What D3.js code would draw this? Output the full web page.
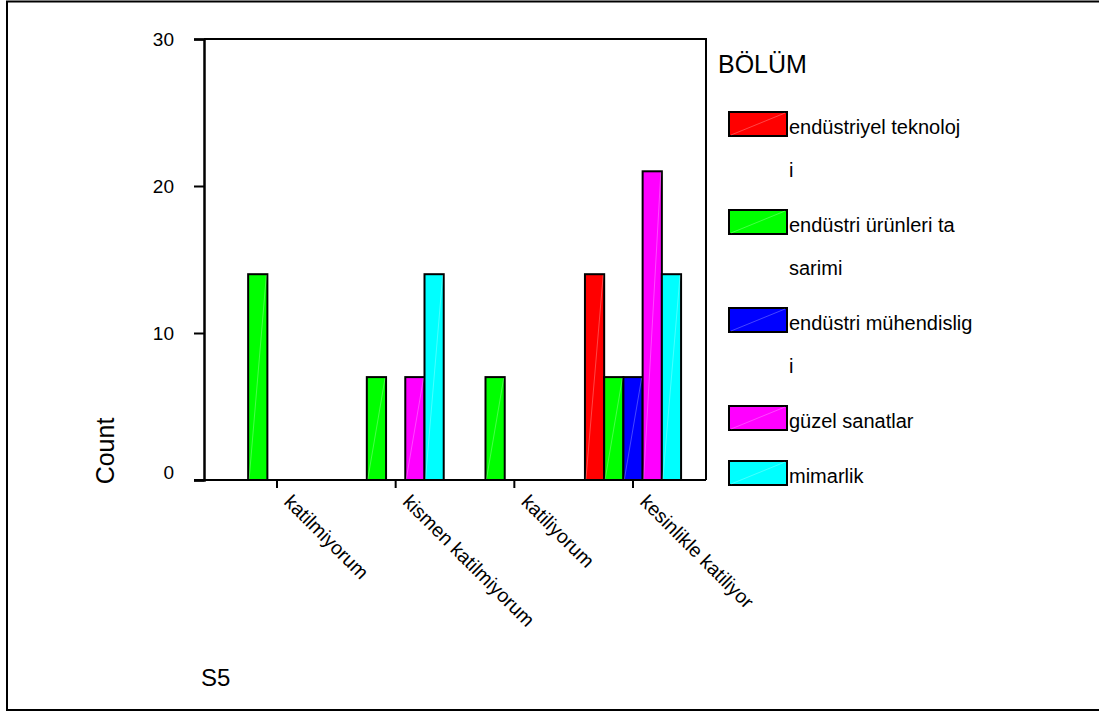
<!DOCTYPE html>
<html>
<head>
<meta charset="utf-8">
<script src="https://cdn.jsdelivr.net/npm/d3@7"></script>
<style>
  html, body { margin: 0; padding: 0; background: #fff; }
  svg { display: block; }
  text { font-family: "Liberation Sans", Arial, sans-serif; fill: #000; }
</style>
</head>
<body>
<svg id="chart" width="1099" height="713"></svg>
<script>
const categories = ["katilmiyorum", "kismen katilmiyorum", "katiliyorum", "kesinlikle katiliyor"];
const seriesNames = ["endüstriyel teknoloji", "endüstri ürünleri tasarimi", "endüstri mühendisligi", "güzel sanatlar", "mimarlik"];
const seriesColors = ["#ff0000", "#00ff00", "#0000ff", "#ff00ff", "#00ffff"];
const valsEndustriyelTeknoloji = [0, 0, 0, 14];
const valsUrunTasarimi = [14, 7, 7, 7];
const valsMuhendislik = [0, 0, 0, 7];
const valsGuzelSanatlar = [0, 7, 0, 21];
const valsMimarlik = [0, 14, 0, 14];
const seriesValues = [valsEndustriyelTeknoloji, valsUrunTasarimi, valsMuhendislik, valsGuzelSanatlar, valsMimarlik];
const yTicks = [0, 10, 20, 30];
const legendTitle = "BÖLÜM";
const yTitle = "Count";
const xTitle = "S5";

const FONT = "'Liberation Sans', Arial, sans-serif";
const svg = d3.select("#chart");

// outer frame
svg.append("rect").attr("x", 7).attr("y", 1.5).attr("width", 1100).attr("height", 708.5)
  .attr("fill", "none").attr("stroke", "#000").attr("stroke-width", 2);

const plot = { left: 204, right: 706, top: 39, bottom: 480 };

const x = d3.scaleBand().domain(categories).range([plot.left, plot.right])
  .paddingInner(0.19).paddingOuter(0.21);
const xs = d3.scaleBand().domain(seriesNames).range([0, x.bandwidth()]).padding(0);
const y = d3.scaleLinear().domain([0, 30]).range([plot.bottom, plot.top]);

// plot frame (top and right)
svg.append("path")
  .attr("d", `M${plot.left},${plot.top}H${plot.right}V${plot.bottom}`)
  .attr("fill", "none").attr("stroke", "#000").attr("stroke-width", 2);

// bars
const barData = [];
seriesNames.forEach((s, si) => {
  categories.forEach((c, ci) => {
    const v = seriesValues[si][ci];
    if (v > 0) barData.push({ s, c, v, color: seriesColors[si] });
  });
});
const bars = svg.append("g");
bars.selectAll("rect").data(barData).enter().append("rect")
  .attr("x", d => x(d.c) + xs(d.s))
  .attr("y", d => y(d.v))
  .attr("width", xs.bandwidth())
  .attr("height", d => y(0) - y(d.v))
  .attr("fill", d => d.color)
  .attr("stroke", "#000").attr("stroke-width", 2);
bars.selectAll("line").data(barData).enter().append("line")
  .attr("x1", d => x(d.c) + xs(d.s) + 1)
  .attr("y1", y(0) - 1)
  .attr("x2", d => x(d.c) + xs(d.s) + xs.bandwidth() - 1)
  .attr("y2", d => y(d.v) + 1)
  .attr("stroke", "#fff").attr("stroke-opacity", 0.35).attr("stroke-width", 0.8);

// y axis
const yAxis = svg.append("g").attr("transform", `translate(${plot.left},0)`)
  .call(d3.axisLeft(y).tickValues(yTicks).tickSize(10).tickPadding(20).tickFormat(d3.format("d")));
yAxis.select(".domain").attr("stroke-width", 2.5);
yAxis.selectAll(".tick line").attr("stroke-width", 2);
yAxis.selectAll(".tick text")
  .style("font-size", "19px").style("font-family", FONT)
  .attr("dy", d => d === 0 ? "-0.1em" : "0.35em");

// x axis
const xAxis = svg.append("g").attr("transform", `translate(0,${plot.bottom})`)
  .call(d3.axisBottom(x).tickSize(8).tickSizeOuter(0));
xAxis.select(".domain").attr("d", `M${plot.left - 10},0H${plot.right}`).attr("stroke-width", 2);
xAxis.selectAll(".tick text")
  .style("font-size", "19.5px").style("font-family", FONT)
  .attr("text-anchor", "start")
  .attr("transform", "translate(6,23) rotate(45)")
  .attr("x", 0).attr("y", 0).attr("dy", 0);
xAxis.selectAll(".tick line").attr("stroke-width", 2);

// axis titles
svg.append("text").attr("transform", "translate(114,451) rotate(-90)")
  .attr("text-anchor", "middle").style("font-size", "25px").text(yTitle);
svg.append("text").attr("x", 201).attr("y", 686).style("font-size", "24px").text(xTitle);

// legend
svg.append("text").attr("x", 718).attr("y", 73).style("font-size", "25px").text(legendTitle);
const wrap = (s, n) => { const out = []; for (let i = 0; i < s.length; i += n) out.push(s.slice(i, i + n)); return out; };
let by = 134;
const lg = svg.append("g");
seriesNames.forEach((s, i) => {
  const lines = wrap(s, 20);
  const top = by - 22;
  lg.append("rect").attr("x", 729).attr("y", top).attr("width", 58).attr("height", 24)
    .attr("fill", seriesColors[i]).attr("stroke", "#000").attr("stroke-width", 2);
  lg.append("line").attr("x1", 731).attr("y1", top + 23).attr("x2", 785).attr("y2", top + 1)
    .attr("stroke", "#fff").attr("stroke-opacity", 0.35).attr("stroke-width", 0.8);
  lines.forEach((ln, j) => {
    lg.append("text").attr("x", 789).attr("y", by + j * 43)
      .style("font-size", "20px").text(ln);
  });
  by += (lines.length - 1) * 43 + 55;
});
</script>
</body>
</html>
